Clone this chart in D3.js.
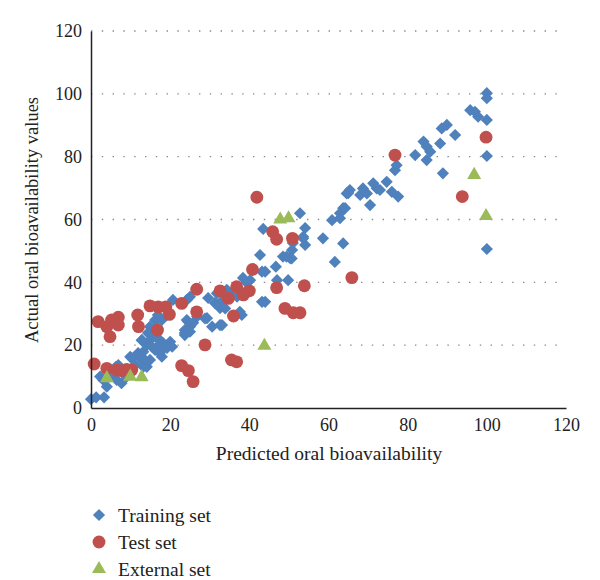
<!DOCTYPE html>
<html><head><meta charset="utf-8">
<script src="https://cdn.jsdelivr.net/npm/d3@7"></script>
<style>body{margin:0;background:#fff}svg{display:block}</style>
</head><body>
<svg id="c" width="600" height="580"></svg>
<script>
const xTicks = [0,20,40,60,80,100,120];
const yTicks = [0,20,40,60,80,100,120];
const trainX = [0,1.3,3.3,4,3.1,4.8,6.5,7.7,6.9,9,10.3,11.1,12.4,13.2,14.1,12.8,14.9,15.7,16.6,17.9,16.2,17.4,16.2,18.7,20,17.9,14.9,13.2,11.9,9.9,8.1,2.3,6.3,16.9,20.7,24.2,25,24.2,25,23.7,25.8,26.8,29.3,29.6,30.6,31.3,32.6,33.1,33.3,35.6,36.9,38.1,37.6,38.4,40.2,39.4,42.7,43.2,44,43.2,44,43.5,46.7,47,48.5,49.8,50.3,50.8,51,52.8,54.1,53.6,54.1,58.6,60.9,61.6,63.7,24.5,23.7,34.3,31.8,33.9,37.6,25,23.7,28.8,32.6,18.2,19.2,20.5,16.7,15.4,17.4,13.6,14.1,12.9,14.4,14.9,16.2,62.9,63.7,64.6,65.4,68,68.7,69.7,70.5,71.3,72.2,74.7,76,77.6,76.8,77.2,81.9,84,84.8,85.7,84.8,88.2,88.6,89.9,92,88.9,95.8,97,97.8,100,100,100,100,100,53.6,49.4,50.7,62.9,64.2,65,73];
const trainY = [2.8,3.4,3.4,6.8,8.9,10,8.9,7.9,13.7,10,15.8,13.7,15.8,17.9,20,21.6,21.6,23.8,25.9,28,28,21.6,18.5,19.5,21.1,16.3,15.3,13.1,17.5,16.3,11.1,10,13.1,29.6,34.4,34.4,35.4,28,25.9,23.9,27.1,29.1,28.6,35,25.9,33.4,31.8,26.4,34.4,36.6,35.4,29.6,37.6,41.4,40.7,39.8,48.7,43.4,43.4,33.8,33.8,57,45,40.7,48.2,40.7,47.7,50.3,52.5,62,57.3,54,51.9,54,59.8,46.5,52.4,27.5,24.8,37.6,36.5,31.7,30.6,24.3,23.2,28.5,26.4,20.7,19.1,19.5,19.5,19.5,17.5,15.3,13.1,21.6,23.9,25.9,22.7,62,63.6,68.3,69.4,67.8,69.9,68.3,64.6,71.5,69.9,72,68.8,67.3,75.7,77.3,80.5,84.8,83.2,81.6,78.9,84.2,89,90.1,86.9,74.7,94.8,94.3,92.7,91.7,100.2,98.6,80.2,50.6,54.5,48.2,47.6,60.4,63.6,68.4,69.4];
const testX = [41.9,45.9,46.9,50.9,46.9,53.9,49,51.1,52.8,40.8,40,38.5,36.8,34.7,32.6,36,26.7,26.7,28.8,22.9,19.8,18.9,17,14.9,11.8,12,16.8,1.8,4,5.2,6.9,6.9,4.8,0.8,4,6.5,7.7,9,10.3,22.9,24.6,25.8,35.5,36.8,76.8,99.8,93.8,65.9];
const testY = [67.1,56.1,53.7,54,38.3,38.9,31.7,30.3,30.3,44.1,37.3,36,38.6,34.9,37.3,29.3,37.8,30.6,20.1,33.3,29.8,32.2,32.2,32.5,29.6,25.9,24.8,27.5,25.9,28,28.9,26.4,22.7,14,12.6,12.1,11.9,12.3,12.1,13.5,11.9,8.4,15.3,14.7,80.5,86.2,67.3,41.5];
const extX = [4,9.9,12.8,43.8,47.8,49.9,96.8,99.8];
const extY = [9.5,10,9.8,19.8,60,60.4,74.2,61.1];
const seriesNames = ["Training set","Test set","External set"];
const colors = ["#4F81BD","#C0504D","#9BBB59"];

const svg = d3.select("#c");
const font = "'Liberation Serif','Times New Roman',serif";
const x = d3.scaleLinear().domain([0,120]).range([91,566]);
const y = d3.scaleLinear().domain([0,120]).range([408,31]);

// gridlines
svg.append("g").selectAll("line").data(yTicks.filter(d=>d>0)).join("line")
  .attr("x1",x(0)).attr("x2",x(120)-3).attr("y1",d=>y(d)).attr("y2",d=>y(d))
  .attr("stroke","#888").attr("stroke-width",1.3).attr("stroke-dasharray","1.4,9.4");

const diamond = d3.symbol().type(d3.symbolSquare).size(74);
const circle = d3.symbol().type(d3.symbolCircle).size(130);
const tri = d3.symbol().type(d3.symbolTriangle).size(85);

const g = svg.append("g");
g.selectAll("path.tr").data(trainX.map((v,i)=>[v,trainY[i]])).join("path")
  .attr("d",diamond).attr("fill",colors[0])
  .attr("transform",d=>`translate(${x(d[0])},${y(d[1])}) rotate(45)`);
g.selectAll("path.te").data(testX.map((v,i)=>[v,testY[i]])).join("path")
  .attr("d",circle).attr("fill",colors[1])
  .attr("transform",d=>`translate(${x(d[0])},${y(d[1])})`);
g.selectAll("path.ex").data(extX.map((v,i)=>[v,extY[i]])).join("path")
  .attr("d",tri).attr("fill",colors[2])
  .attr("transform",d=>`translate(${x(d[0])},${y(d[1])})`);

// axes
const xa = svg.append("g").attr("transform",`translate(0,${y(0)})`)
  .call(d3.axisBottom(x).tickValues(xTicks).tickSize(0).tickPadding(10));
const ya = svg.append("g").attr("transform",`translate(${x(0)},0)`)
  .call(d3.axisLeft(y).tickValues(yTicks).tickSize(0).tickPadding(9));
[xa,ya].forEach(a=>{
  a.select(".domain").attr("stroke","#222").attr("stroke-width",1.5);
  a.selectAll("text").attr("font-family",font).attr("font-size",18).attr("fill","#222");
});

svg.append("text").attr("x",329).attr("y",460).attr("text-anchor","middle")
  .attr("font-family",font).attr("font-size",19.5).attr("fill","#222")
  .text("Predicted oral bioavailability");
svg.append("text").attr("transform","translate(38,220) rotate(-90)").attr("text-anchor","middle")
  .attr("font-family",font).attr("font-size",18.5).attr("fill","#222")
  .text("Actual oral bioavailability values");

// legend
const syms = [diamond,circle,tri];
const leg = svg.append("g");
seriesNames.forEach((n,i)=>{
  const yy = 515 + i*27;
  leg.append("path").attr("d",syms[i]).attr("fill",colors[i])
    .attr("transform",`translate(99,${yy})${i===0?" rotate(45)":""}`);
  leg.append("text").attr("x",118).attr("y",yy).attr("dy","0.35em")
    .attr("font-family",font).attr("font-size",19.5).attr("fill","#222").text(n);
});
</script>
</body></html>
